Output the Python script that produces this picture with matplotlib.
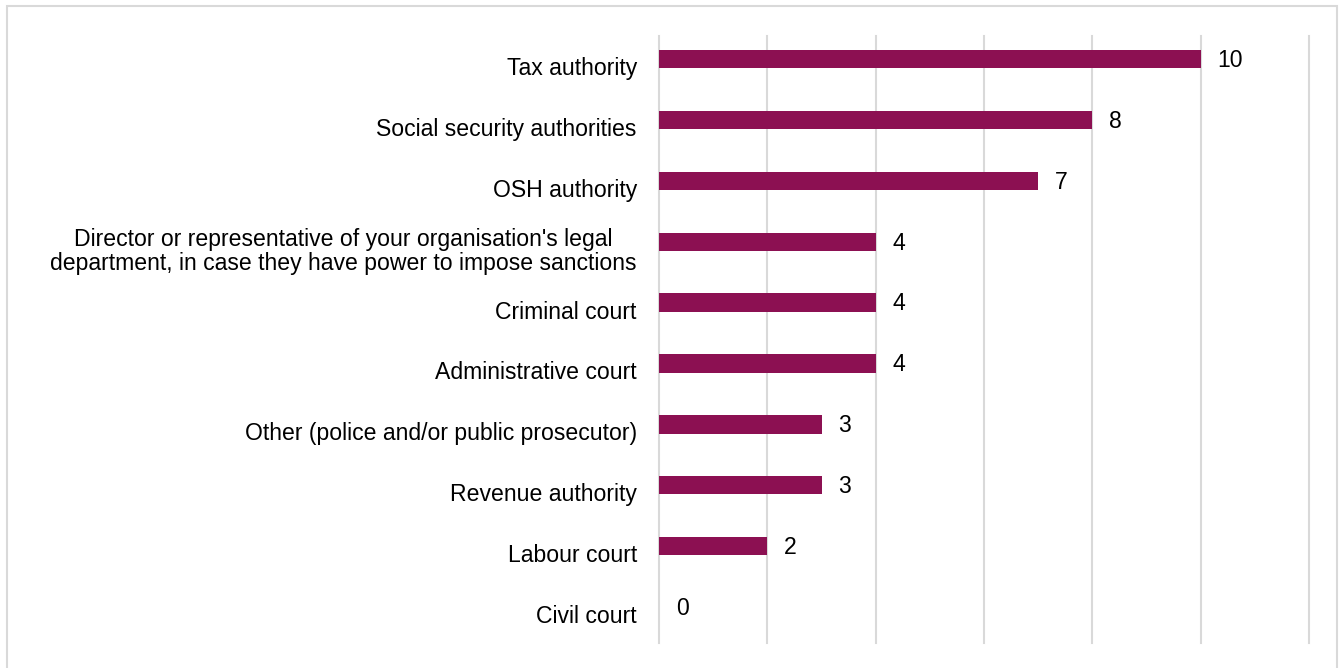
import matplotlib
matplotlib.use("Agg")
import matplotlib.pyplot as plt
from matplotlib.patches import Rectangle
from matplotlib.transforms import ScaledTranslation

categories = [
    "Tax authority",
    "Social security authorities",
    "OSH authority",
    "Director or representative of your organisation's legal\ndepartment, in case they have power to impose sanctions",
    "Criminal court",
    "Administrative court",
    "Other (police and/or public prosecutor)",
    "Revenue authority",
    "Labour court",
    "Civil court",
]
values = [10, 8, 7, 4, 4, 4, 3, 3, 2, 0]
x_ticks = [0, 2, 4, 6, 8, 10, 12]

BAR_COLOR = "#8C1052"
GRID_COLOR = "#d9d9d9"
FONT = "Liberation Sans"
FS = 16.6

plt.rcParams["font.family"] = [FONT, "DejaVu Sans"]

fig = plt.figure(figsize=(13.4, 6.68), dpi=100)
ax = fig.add_axes([659 / 1340, 1 - 643 / 668, 650 / 1340, 607 / 668])

ypos = list(range(len(categories)))
ax.barh(ypos, values, height=0.30, color=BAR_COLOR, zorder=3)

for y, v in zip(ypos, values):
    ax.annotate(str(v), xy=(v, y), xytext=(12, -1), textcoords="offset points",
                va="center", ha="left", fontsize=FS, color="#000000")

ax.set_xlim(0, 12)
ax.set_ylim(9.59, -0.378)
ax.set_xticks(x_ticks)
ax.xaxis.grid(True, color=GRID_COLOR, linewidth=1.5, zorder=0)
for gl in ax.get_xgridlines():
    gl.set_clip_on(False)
ax.tick_params(axis="x", bottom=False, labelbottom=False)
ax.set_yticks(ypos)
ax.set_yticklabels(categories, fontsize=FS, ha="right", multialignment="center",
                   linespacing=1.05)
ax.tick_params(axis="y", left=False, pad=12.5)
shift = ScaledTranslation(0, -5 / 72, fig.dpi_scale_trans)
for lbl in ax.get_yticklabels():
    lbl.set_transform(lbl.get_transform() + shift)
for s in ax.spines.values():
    s.set_visible(False)

fig.patches.append(Rectangle((7 / 1340, -0.05), 1330 / 1340, 1.05 - 6 / 668,
                             transform=fig.transFigure, fill=False,
                             edgecolor=GRID_COLOR, linewidth=1.5))

fig.savefig("out.png", dpi=100, facecolor="white")
